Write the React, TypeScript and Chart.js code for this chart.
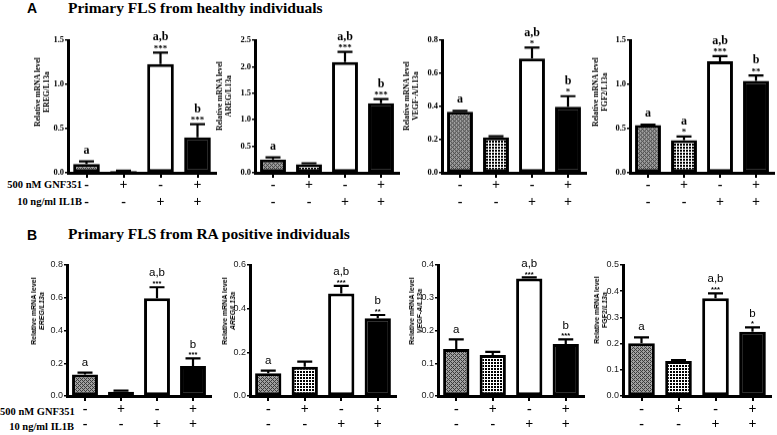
import React, { useEffect, useRef } from 'react';
import { Chart, registerables } from 'chart.js';

Chart.register(...registerables);

// ---- Treatment table (x tick rows) ----
const GNF351_SIGNS = ['-', '+', '-', '+'];
const IL1B_SIGNS = ['-', '-', '+', '+'];

// ---- Panel A: primary FLS from healthy individuals ----
const A_EREG_MEAN = [0.10, 0.02, 1.23, 0.40];
const A_EREG_ERR = [0.13, 0.025, 1.36, 0.55];
const A_EREG_LETTERS = ['a', '', 'a,b', 'b'];
const A_EREG_STARS = ['', '', '***', '***'];
const A_EREG_MAX = 1.5;
const A_EREG_STEP = 0.5;

const A_AREG_MEAN = [0.25, 0.16, 2.09, 1.31];
const A_AREG_ERR = [0.29, 0.18, 2.28, 1.39];
const A_AREG_LETTERS = ['a', '', 'a,b', 'b'];
const A_AREG_STARS = ['', '', '***', '***'];
const A_AREG_MAX = 2.5;
const A_AREG_STEP = 0.5;

const A_VEGF_MEAN = [0.368, 0.213, 0.69, 0.398];
const A_VEGF_ERR = [0.374, 0.22, 0.755, 0.462];
const A_VEGF_LETTERS = ['a', '', 'a,b', 'b'];
const A_VEGF_STARS = ['', '', '*', '*'];
const A_VEGF_MAX = 0.8;
const A_VEGF_STEP = 0.2;

const A_FGF2_MEAN = [0.54, 0.37, 1.26, 1.04];
const A_FGF2_ERR = [0.545, 0.41, 1.32, 1.10];
const A_FGF2_LETTERS = ['a', 'a', 'a,b', 'b'];
const A_FGF2_STARS = ['', '*', '***', '**'];
const A_FGF2_MAX = 1.5;
const A_FGF2_STEP = 0.5;

// ---- Panel B: primary FLS from RA positive individuals ----
const B_EREG_MEAN = [0.132, 0.026, 0.597, 0.183];
const B_EREG_ERR = [0.143, 0.033, 0.664, 0.23];
const B_EREG_LETTERS = ['a', '', 'a,b', 'b'];
const B_EREG_STARS = ['', '', '***', '***'];
const B_EREG_MAX = 0.8;
const B_EREG_STEP = 0.2;

const B_AREG_MEAN = [0.104, 0.134, 0.47, 0.356];
const B_AREG_ERR = [0.116, 0.157, 0.504, 0.371];
const B_AREG_LETTERS = ['a', '', 'a,b', 'b'];
const B_AREG_STARS = ['', '', '***', '**'];
const B_AREG_MAX = 0.6;
const B_AREG_STEP = 0.2;

const B_VEGF_MEAN = [0.1435, 0.125, 0.359, 0.159];
const B_VEGF_ERR = [0.173, 0.135, 0.362, 0.173];
const B_VEGF_LETTERS = ['a', '', 'a,b', 'b'];
const B_VEGF_STARS = ['', '', '***', '***'];
const B_VEGF_MAX = 0.4;
const B_VEGF_STEP = 0.1;

const B_FGF2_MEAN = [0.201, 0.134, 0.373, 0.2455];
const B_FGF2_ERR = [0.224, 0.137, 0.392, 0.262];
const B_FGF2_LETTERS = ['a', '', 'a,b', 'b'];
const B_FGF2_STARS = ['', '', '***', '*'];
const B_FGF2_MAX = 0.5;
const B_FGF2_STEP = 0.1;

const Y_TITLE_1 = 'Relative mRNA level';

type Geo = { axisX: number; top: number; bottom: number; width: number; tx: number; ty: number };
type PanelDef = {
  mean: number[]; err: number[]; letters: string[]; stars: string[];
  max: number; step: number; gene: string; sans: boolean; geo: Geo;
};

const PANELS: PanelDef[] = [
  { mean: A_EREG_MEAN, err: A_EREG_ERR, letters: A_EREG_LETTERS, stars: A_EREG_STARS, max: A_EREG_MAX, step: A_EREG_STEP, gene: 'EREG', sans: false,
    geo: { axisX: 68, top: 40, bottom: 172.5, width: 148, tx: 41.5, ty: 92 } },
  { mean: A_AREG_MEAN, err: A_AREG_ERR, letters: A_AREG_LETTERS, stars: A_AREG_STARS, max: A_AREG_MAX, step: A_AREG_STEP, gene: 'AREG', sans: false,
    geo: { axisX: 255, top: 40, bottom: 172.5, width: 144, tx: 224, ty: 96 } },
  { mean: A_VEGF_MEAN, err: A_VEGF_ERR, letters: A_VEGF_LETTERS, stars: A_VEGF_STARS, max: A_VEGF_MAX, step: A_VEGF_STEP, gene: 'VEGF-A', sans: false,
    geo: { axisX: 442, top: 40, bottom: 172.5, width: 144, tx: 410.5, ty: 96 } },
  { mean: A_FGF2_MEAN, err: A_FGF2_ERR, letters: A_FGF2_LETTERS, stars: A_FGF2_STARS, max: A_FGF2_MAX, step: A_FGF2_STEP, gene: 'FGF2', sans: false,
    geo: { axisX: 630, top: 40, bottom: 172.5, width: 144, tx: 599.5, ty: 92 } },
  { mean: B_EREG_MEAN, err: B_EREG_ERR, letters: B_EREG_LETTERS, stars: B_EREG_STARS, max: B_EREG_MAX, step: B_EREG_STEP, gene: 'EREG', sans: true,
    geo: { axisX: 67, top: 265, bottom: 396, width: 144, tx: 37.5, ty: 311 } },
  { mean: B_AREG_MEAN, err: B_AREG_ERR, letters: B_AREG_LETTERS, stars: B_AREG_STARS, max: B_AREG_MAX, step: B_AREG_STEP, gene: 'AREG', sans: true,
    geo: { axisX: 250, top: 265, bottom: 396, width: 146, tx: 229, ty: 311 } },
  { mean: B_VEGF_MEAN, err: B_VEGF_ERR, letters: B_VEGF_LETTERS, stars: B_VEGF_STARS, max: B_VEGF_MAX, step: B_VEGF_STEP, gene: 'VEGF-A', sans: true,
    geo: { axisX: 438, top: 265, bottom: 396, width: 146, tx: 415.5, ty: 311 } },
  { mean: B_FGF2_MEAN, err: B_FGF2_ERR, letters: B_FGF2_LETTERS, stars: B_FGF2_STARS, max: B_FGF2_MAX, step: B_FGF2_STEP, gene: 'FGF2', sans: true,
    geo: { axisX: 623, top: 265, bottom: 396, width: 148, tx: 601, ty: 310 } },
];

const PAD_TOP = 30;
const Y_W = 30;
const X_H = 44;
const PAD_R = 8;
const SERIF = '"Liberation Serif", "Times New Roman", serif';
const SANS = '"Liberation Sans", Arial, sans-serif';

function makePatterns(): CanvasPattern[] {
  const mk = (size: number, fn: (x: number, y: number) => number) => {
    const t = document.createElement('canvas');
    t.width = size; t.height = size;
    const c = t.getContext('2d')!;
    const img = c.createImageData(size, size);
    for (let y = 0; y < size; y++) {
      for (let x = 0; x < size; x++) {
        const v = fn(x, y);
        const k = (y * size + x) * 4;
        img.data[k] = v; img.data[k + 1] = v; img.data[k + 2] = v; img.data[k + 3] = 255;
      }
    }
    c.putImageData(img, 0, 0);
    const host = document.createElement('canvas').getContext('2d')!;
    return host.createPattern(t, 'repeat')!;
  };
  const p1 = mk(4, (x, y) => (((x + y) % 4 === 0) || ((x - y + 8) % 4 === 0) ? 60 : 160));
  const p2 = mk(6, (x, y) => ((((x + y) % 6) < 3) !== ((((x - y + 12) % 6)) < 3) ? 0 : 255));
  return [p1, p2];
}

function BarPanel({ p }: { p: PanelDef }) {
  const ref = useRef<HTMLCanvasElement>(null);
  const g = p.geo;
  const w = Y_W + g.width + PAD_R;
  const h = PAD_TOP + (g.bottom - g.top) + X_H;
  useEffect(() => {
    const [pat1, pat2] = makePatterns();
    const tickFontY = p.sans
      ? { family: SANS, size: 9, weight: 'normal' as const }
      : { family: SERIF, size: 8.5, weight: 'bold' as const };
    const annot = {
      id: 'annot',
      afterDatasetsDraw(chart: any) {
        const ctx = chart.ctx as CanvasRenderingContext2D;
        const meta = chart.getDatasetMeta(0);
        const ys = chart.scales.y;
        meta.data.forEach((bar: any, i: number) => {
          const x = bar.x;
          const base = ys.getPixelForValue(p.mean[i]);
          const top = ys.getPixelForValue(p.err[i]);
          ctx.save();
          ctx.strokeStyle = '#000';
          ctx.lineWidth = 2.2;
          ctx.beginPath();
          ctx.moveTo(x, base);
          ctx.lineTo(x, top);
          ctx.moveTo(x - 7.5, top);
          ctx.lineTo(x + 7.5, top);
          ctx.stroke();
          ctx.fillStyle = '#000';
          ctx.textAlign = 'center';
          ctx.textBaseline = 'middle';
          let ly = top - (p.sans ? 10 : 11);
          if (p.stars[i]) {
            ctx.font = p.sans ? `bold 7.5px ${SANS}` : `bold 9px ${SERIF}`;
            ctx.fillText(p.stars[i], x, top + (p.sans ? -3 : -4));
            ly = top - (p.sans ? 14 : 15);
          }
          if (p.letters[i]) {
            ctx.font = p.sans ? `11.5px ${SANS}` : `bold 12px ${SERIF}`;
            ctx.fillText(p.letters[i], x, ly);
          }
          ctx.restore();
        });
      },
    };
    const chart = new Chart(ref.current!, {
      type: 'bar',
      data: {
        labels: GNF351_SIGNS.map((s, i) => [s, IL1B_SIGNS[i]]),
        datasets: [{
          data: p.mean,
          backgroundColor: [pat1, pat2, '#ffffff', '#000000'] as any,
          borderColor: '#000',
          borderWidth: 3,
          borderSkipped: false,
          categoryPercentage: 1,
          barPercentage: 0.72,
        }],
      },
      options: {
        responsive: false,
        animation: false,
        devicePixelRatio: 1,
        layout: { padding: { top: PAD_TOP, right: PAD_R, left: 0, bottom: 0 } },
        plugins: { legend: { display: false }, tooltip: { enabled: false } },
        scales: {
          x: {
            grid: { display: true, drawOnChartArea: false, offset: false, tickLength: 5, color: '#000', lineWidth: 2 },
            border: { display: true, color: '#000', width: 3 },
            ticks: {
              color: '#000',
              padding: p.sans ? 1 : -1,
              maxRotation: 0,
              autoSkip: false,
              font: { family: SERIF, size: 14, weight: 'bold', lineHeight: p.sans ? 1.07 : 1.22 },
            },
            afterFit: (s: any) => { s.height = X_H; },
          },
          y: {
            min: 0,
            max: p.max,
            grid: { display: true, drawOnChartArea: false, tickLength: 3, color: '#000', lineWidth: 1.5 },
            border: { display: true, color: '#000', width: 3 },
            ticks: {
              stepSize: p.step,
              padding: 1,
              color: p.sans ? '#222' : '#000',
              font: tickFontY,
              callback: (v: any) => Number(v).toFixed(1),
            },
            afterFit: (s: any) => { s.width = Y_W; },
          },
        },
      },
      plugins: [annot],
    });
    return () => chart.destroy();
  }, []);

  const titleFont = p.sans ? SANS : SERIF;
  return (
    <>
      <canvas
        ref={ref}
        width={w}
        height={h}
        style={{ position: 'absolute', left: g.axisX - Y_W, top: g.top - PAD_TOP, width: w, height: h }}
      />
      <div
        style={{
          position: 'absolute', left: g.tx, top: g.ty,
          transform: 'translate(-50%, -50%) rotate(-90deg)',
          fontFamily: titleFont, fontWeight: 'bold',
          fontSize: p.sans ? 7 : 7.8, lineHeight: p.sans ? '8px' : '9px',
          textAlign: 'center', whiteSpace: 'nowrap', color: '#000',
        }}
      >
        {Y_TITLE_1}
        <br />
        {p.sans ? (
          p.gene === 'FGF2'
            ? <span>FGF2/<i>L13a</i></span>
            : <i>{p.gene}/L13a</i>
        ) : (
          <span>{p.gene}/L13a</span>
        )}
      </div>
    </>
  );
}

const rowStyle = (right: number, cy: number): React.CSSProperties => ({
  position: 'absolute', left: 0, width: right, top: cy - 5.6, textAlign: 'right',
  fontFamily: SERIF, fontWeight: 'bold', fontSize: 10.5, lineHeight: '11px', whiteSpace: 'nowrap', color: '#000',
});

export default function App() {
  return (
    <div style={{ position: 'absolute', left: 0, top: 0, width: 777, height: 435, background: '#fff', overflow: 'hidden' }}>
      <div style={{ position: 'absolute', left: 27, top: 1, fontFamily: SANS, fontWeight: 'bold', fontSize: 14, lineHeight: '14px' }}>A</div>
      <div style={{ position: 'absolute', left: 68, top: -0.5, fontFamily: SERIF, fontWeight: 'bold', fontSize: 15.5, lineHeight: '15.5px', whiteSpace: 'nowrap' }}>
        Primary FLS from healthy individuals
      </div>
      <div style={{ position: 'absolute', left: 27, top: 228, fontFamily: SANS, fontWeight: 'bold', fontSize: 14, lineHeight: '14px' }}>B</div>
      <div style={{ position: 'absolute', left: 68, top: 226, fontFamily: SERIF, fontWeight: 'bold', fontSize: 15.5, lineHeight: '15.5px', whiteSpace: 'nowrap' }}>
        Primary FLS from RA positive individuals
      </div>
      <div style={rowStyle(82, 185)}>500 nM GNF351</div>
      <div style={rowStyle(82, 202)}>10 ng/ml IL1B</div>
      <div style={rowStyle(74, 412)}>500 nM GNF351</div>
      <div style={rowStyle(74, 427)}>10 ng/ml IL1B</div>
      {PANELS.map((p, i) => <BarPanel key={i} p={p} />)}
    </div>
  );
}
